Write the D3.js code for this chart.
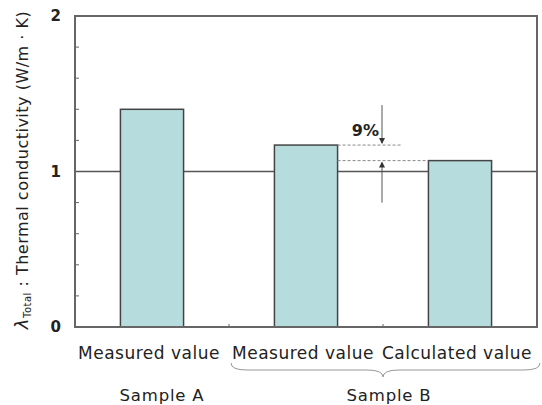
<!DOCTYPE html>
<html><head><meta charset="utf-8">
<script src="https://cdn.jsdelivr.net/npm/d3@7"></script>
<style>body{margin:0;background:#fff}svg{display:block}text{font-family:"DejaVu Sans","Liberation Sans",Arial,sans-serif;fill:#222}</style>
</head><body><svg id="c" width="542" height="405"></svg>
<script>
const categories = ["Measured value", "Measured value", "Calculated value"];
const groups = [{name: "Sample A", from: 0, to: 0}, {name: "Sample B", from: 1, to: 2}];
const values = [1.40, 1.17, 1.07];
const yTicks = [0, 1, 2];
const minorTicks = [0.2, 0.4, 0.6, 0.8, 1.2, 1.4, 1.6, 1.8];
const refValue = 1;
const diffLabel = "9%";

const svg = d3.select("#c");
const m = {l: 75, r: 537, t: 16, b: 327};
const x = d3.scaleBand().domain(d3.range(categories.length)).range([m.l, m.r]).paddingInner(0).paddingOuter(0);
const y = d3.scaleLinear().domain([0, 2]).range([m.b, m.t]);
const bw = x.bandwidth() * 0.41;
const cx = i => x(i) + x.bandwidth() / 2;

// reference line at 1
svg.append("line").attr("x1", m.l).attr("x2", m.r).attr("y1", y(refValue)).attr("y2", y(refValue))
  .attr("stroke", "#555").attr("stroke-width", 1.5);

// bars
svg.selectAll("rect.bar").data(values).enter().append("rect").attr("class", "bar")
  .attr("x", (d, i) => cx(i) - bw / 2).attr("width", bw)
  .attr("y", d => y(d)).attr("height", d => y(0) - y(d))
  .attr("fill", "#b7dcdd").attr("stroke", "#444").attr("stroke-width", 1.5);

// minor ticks (inward)
svg.selectAll("line.mt").data(minorTicks).enter().append("line")
  .attr("x1", m.l).attr("x2", m.l + 4).attr("y1", d => y(d)).attr("y2", d => y(d))
  .attr("stroke", "#666").attr("stroke-width", 1);
// bottom ticks at category boundaries
svg.selectAll("line.bt").data(d3.range(1, categories.length)).enter().append("line")
  .attr("x1", d => x(d)).attr("x2", d => x(d)).attr("y1", m.b).attr("y2", m.b - 3)
  .attr("stroke", "#666").attr("stroke-width", 1);

// frame
svg.append("rect").attr("x", m.l).attr("y", m.t).attr("width", m.r - m.l).attr("height", m.b - m.t)
  .attr("fill", "none").attr("stroke", "#666").attr("stroke-width", 2);

// y tick labels
svg.selectAll("text.yt").data(yTicks).enter().append("text")
  .attr("x", 61).attr("y", d => y(d)).attr("dy", "0.36em").attr("text-anchor", "end")
  .attr("font-size", 15).attr("font-weight", "bold").text(d => d);

// y label
const yl = svg.append("text").attr("transform", "translate(28," + 170 + ") rotate(-90)")
  .attr("text-anchor", "middle").attr("font-size", 16).attr("letter-spacing", 0.5);
yl.append("tspan").attr("font-style", "italic").attr("font-size", 18).text("λ");
yl.append("tspan").attr("font-size", 10).attr("dy", 3).text("Total");
yl.append("tspan").attr("dy", -3).text(" : Thermal conductivity (W/m · K)");

// category labels
svg.selectAll("text.cat").data(categories).enter().append("text")
  .attr("x", (d, i) => cx(i) - 3).attr("y", 359).attr("text-anchor", "middle")
  .attr("font-size", 17).attr("letter-spacing", 0.5).text(d => d);

// group labels
svg.selectAll("text.grp").data(groups).enter().append("text")
  .attr("x", d => (cx(d.from) + cx(d.to)) / 2 + (d.from === d.to ? 10 : 6)).attr("y", 401)
  .attr("text-anchor", "middle").attr("font-size", 16.5).attr("letter-spacing", 0.8).text(d => d.name);

// brace for multi-bar groups
groups.filter(g => g.to > g.from).forEach(g => {
  const x0 = x(g.from) + 2, x1 = m.r + 3, xm = (cx(g.from) + cx(g.to)) / 2;
  const yb = 370, h = 7;
  const p = `M${x0},${yb - h} Q${x0},${yb} ${x0 + 16},${yb} L${xm - 16},${yb} Q${xm},${yb} ${xm},${yb + h} Q${xm},${yb} ${xm + 16},${yb} L${x1 - 16},${yb} Q${x1},${yb} ${x1},${yb - h}`;
  svg.append("path").attr("d", p).attr("fill", "none").attr("stroke", "#999").attr("stroke-width", 1);
});

// difference annotation between bar 1 and bar 2
const ax = x(2) - 1;
const yTop = y(values[1]), yBot = y(values[2]);
svg.append("line").attr("x1", x(1) + x.bandwidth() / 2 + bw / 2).attr("x2", ax + 20).attr("y1", yTop).attr("y2", yTop)
  .attr("stroke", "#888").attr("stroke-dasharray", "3,2").attr("stroke-width", 1);
svg.append("line").attr("x1", x(1) + x.bandwidth() / 2 + bw / 2).attr("x2", cx(2) - bw / 2).attr("y1", yBot).attr("y2", yBot)
  .attr("stroke", "#888").attr("stroke-dasharray", "3,2").attr("stroke-width", 1);
svg.append("line").attr("x1", ax).attr("x2", ax).attr("y1", yTop - 40).attr("y2", yTop - 2)
  .attr("stroke", "#555").attr("stroke-width", 1);
svg.append("line").attr("x1", ax).attr("x2", ax).attr("y1", yBot + 2).attr("y2", yBot + 42)
  .attr("stroke", "#555").attr("stroke-width", 1);
svg.append("path").attr("d", `M${ax - 3},${yTop - 7} L${ax + 3},${yTop - 7} L${ax},${yTop - 1} Z`).attr("fill", "#333");
svg.append("path").attr("d", `M${ax - 3},${yBot + 7} L${ax + 3},${yBot + 7} L${ax},${yBot + 1} Z`).attr("fill", "#333");
svg.append("text").attr("x", ax - 3).attr("y", yTop - 9).attr("text-anchor", "end")
  .attr("font-size", 16).attr("font-weight", "bold").text(diffLabel);
</script></body></html>
